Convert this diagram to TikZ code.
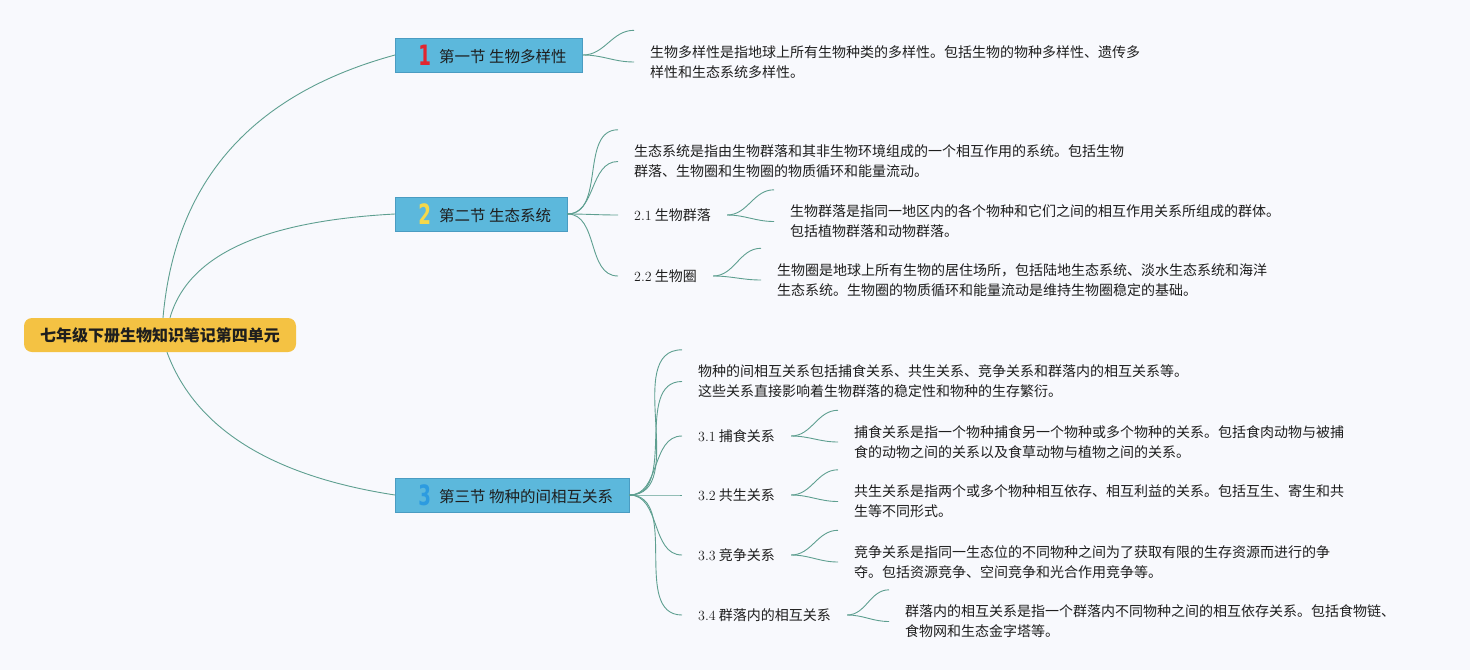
\documentclass[tikz,border=0pt]{standalone}
\usepackage{fontspec}
\usepackage{graphicx}
\usepackage{xcolor}
\usepackage{tikz}
\usetikzlibrary{calc}

\newfontfamily\cjk{Noto Sans CJK SC}
\newfontfamily\numfont{DejaVu Sans}

\definecolor{bgcol}{HTML}{F8F9FD}
\definecolor{linkcol}{HTML}{5E9F90}
\definecolor{secfill}{HTML}{5CB8DC}
\definecolor{secdraw}{HTML}{4A9CC2}
\definecolor{rootfill}{HTML}{F4C243}
\definecolor{numred}{HTML}{E2262F}
\definecolor{numyellow}{HTML}{F6D84A}
\definecolor{numblue}{HTML}{2D9BE0}
\definecolor{txtcol}{HTML}{1E1E1E}

\newcommand{\secnum}[2]{\hspace*{7pt}\raisebox{-3pt}{\scalebox{0.65}[1]{\numfont\bfseries\fontsize{28}{28}\selectfont\color{#1}#2}}\hspace{8pt}}
\newcommand{\tnum}[1]{{\rmfamily\fontsize{14}{16}\selectfont #1}}

\begin{document}
\begin{tikzpicture}[x=1pt,y=-1pt,
	link/.style={draw=linkcol,line width=0.9pt},
	rootbox/.style={fill=rootfill,rounded corners=8pt,minimum height=34pt,inner xsep=16pt,inner ysep=0pt,text=txtcol,font=\cjk\bfseries\fontsize{16}{20}\selectfont},
	secbox/.style={anchor=west,draw=secdraw,fill=secfill,line width=0.8pt,minimum height=34pt,inner xsep=16pt,inner ysep=0pt,text=txtcol,font=\cjk\fontsize{15.5}{18}\selectfont},
	topic/.style={anchor=west,inner xsep=16pt,inner ysep=3pt,text=txtcol,font=\cjk\fontsize{14}{18}\selectfont},
	leaf/.style={anchor=west,inner xsep=16pt,inner ysep=15pt,align=left,text=txtcol,font=\cjk\fontsize{14}{20}\selectfont}]
	
	\fill [bgcol] (0,0) rectangle (1470,670);
	\useasboundingbox (0,0) rectangle (1470,670);
	
	% Level 0
	\node [rootbox] (root) at (160,335) {七年级下册生物知识笔记第四单元};
	
	% Level 1
	\node [secbox] (s1) at (395,55) {\secnum{numred}{1}第一节 生物多样性};
	\node [secbox] (s2) at (395,214) {\secnum{numyellow}{2}第二节 生态系统};
	\node [secbox] (s3) at (395,495) {\secnum{numblue}{3}第三节 物种的间相互关系};
	
	\coordinate (r1) at ($ (root.north) + (3,0) $);
	\coordinate (r2) at ($ (root.north) + (10,0) $);
	\coordinate (r3) at ($ (root.south) + (7,0) $);
	\draw [link] (r1) .. controls +(12,-137) and +(-143,39) .. (s1.west);
	\draw [link] (r2) .. controls +(18,-63) and +(-132,7) .. (s2.west);
	\draw [link] (r3) .. controls +(28,76) and +(-124,-19) .. (s3.west);
	
	% Level 2
	\node [leaf] (d1) at (634,62) {生物多样性是指地球上所有生物种类的多样性。包括生物的物种多样性、遗传多\\样性和生态系统多样性。};
	
	\node [leaf] (d2) at (618,161.5) {生态系统是指由生物群落和其非生物环境组成的一个相互作用的系统。包括生物\\群落、生物圈和生物圈的物质循环和能量流动。};
	\node [topic] (t21) at (618,215) {\tnum{2.1} 生物群落};
	\node [topic] (t22) at (618,276) {\tnum{2.2} 生物圈};
	
	\node [leaf] (d3) at (682,381.5) {物种的间相互关系包括捕食关系、共生关系、竞争关系和群落内的相互关系等。\\这些关系直接影响着生物群落的稳定性和物种的生存繁衍。};
	\node [topic] (t31) at (682,436) {\tnum{3.1} 捕食关系};
	\node [topic] (t32) at (682,495) {\tnum{3.2} 共生关系};
	\node [topic] (t33) at (682,555) {\tnum{3.3} 竞争关系};
	\node [topic] (t34) at (682,615) {\tnum{3.4} 群落内的相互关系};
	
	% Level 3
	\node [leaf] (d21) at (774,221.5) {生物群落是指同一地区内的各个物种和它们之间的相互作用关系所组成的群体。\\包括植物群落和动物群落。};
	\node [leaf] (d22) at (761,280) {生物圈是地球上所有生物的居住场所，包括陆地生态系统、淡水生态系统和海洋\\生态系统。生物圈的物质循环和能量流动是维持生物圈稳定的基础。};
	\node [leaf] (d31) at (838,442) {捕食关系是指一个物种捕食另一个物种或多个物种的关系。包括食肉动物与被捕\\食的动物之间的关系以及食草动物与植物之间的关系。};
	\node [leaf] (d32) at (838,501.5) {共生关系是指两个或多个物种相互依存、相互利益的关系。包括互生、寄生和共\\生等不同形式。};
	\node [leaf] (d33) at (838,562) {竞争关系是指同一生态位的不同物种之间为了获取有限的生存资源而进行的争\\夺。包括资源竞争、空间竞争和光合作用竞争等。};
	\node [leaf] (d34) at (889,621.5) {群落内的相互关系是指一个群落内不同物种之间的相互依存关系。包括食物链、\\食物网和生态金字塔等。};
	
	% Links
	\foreach \e in {d1.north west,d1.west}
		\draw [link] (s1.east) to[out=0,in=180] (\e);
	\foreach \e in {d2.north west,d2.west,t21.west,t22.west}
		\draw [link] (s2.east) to[out=0,in=180] (\e);
	\foreach \e in {d3.north west,d3.west,t31.west,t32.west,t33.west,t34.west}
		\draw [link] (s3.east) to[out=0,in=180] (\e);
	\foreach \t/\d in {t21/d21,t22/d22,t31/d31,t32/d32,t33/d33,t34/d34} {
		\draw [link] (\t.east) to[out=0,in=180] (\d.north west);
		\draw [link] (\t.east) to[out=0,in=180] (\d.west);
	}
	
\end{tikzpicture}
\end{document}
